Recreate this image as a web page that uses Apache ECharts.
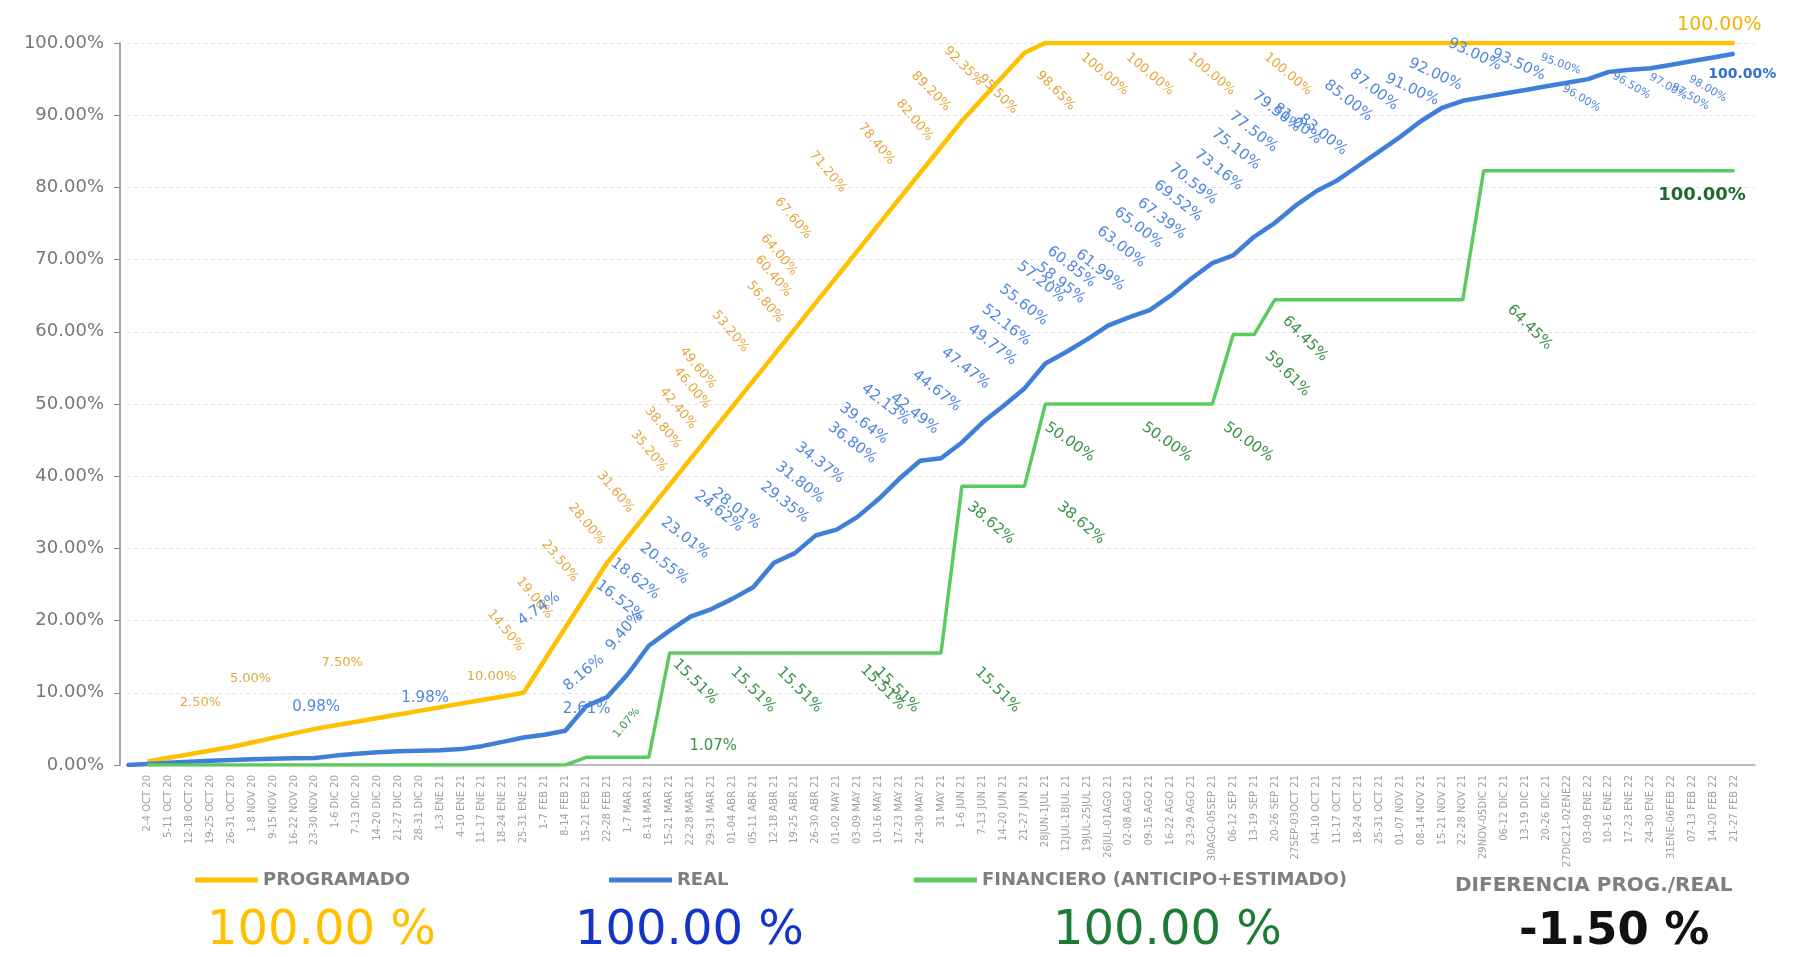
<!DOCTYPE html>
<html><head><meta charset="utf-8">
<script src="https://cdn.jsdelivr.net/npm/echarts@6/dist/echarts.min.js"></script>
<style>html,body{margin:0;padding:0;background:#fff}#c{width:1804px;height:957px}</style>
</head><body><div id="c"></div>
<script>
// ---------------- DATA ----------------
const categories = ['',
'2-4 OCT 20','5-11 OCT 20','12-18 OCT 20','19-25 OCT 20','26-31 OCT 20','1-8 NOV 20','9-15 NOV 20','16-22 NOV 20','23-30 NOV 20',
'1-6 DIC 20','7-13 DIC 20','14-20 DIC 20','21-27 DIC 20','28-31 DIC 20','1-3 ENE 21','4-10 ENE 21','11-17 ENE 21','18-24 ENE 21','25-31 ENE 21',
'1-7 FEB 21','8-14 FEB 21','15-21 FEB 21','22-28 FEB 21','1-7 MAR 21','8-14 MAR 21','15-21 MAR 21','22-28 MAR 21','29-31 MAR 21',
'01-04 ABR 21','05-11 ABR 21','12-18 ABR 21','19-25 ABR 21','26-30 ABR 21','01-02 MAY 21','03-09 MAY 21','10-16 MAY 21','17-23 MAY 21','24-30 MAY 21','31 MAY 21',
'1-6 JUN 21','7-13 JUN 21','14-20 JUN 21','21-27 JUN 21','28JUN-1JUL 21','12JUL-18JUL 21','19JUL-25JUL 21','26JUL-01AGO 21',
'02-08 AGO 21','09-15 AGO 21','16-22 AGO 21','23-29 AGO 21','30AGO-05SEP 21','06-12 SEP 21','13-19 SEP 21','20-26 SEP 21','27SEP-03OCT 21',
'04-10 OCT 21','11-17 OCT 21','18-24 OCT 21','25-31 OCT 21','01-07 NOV 21','08-14 NOV 21','15-21 NOV 21','22-28 NOV 21','29NOV-05DIC 21',
'06-12 DIC 21','13-19 DIC 21','20-26 DIC 21','27DIC21-02ENE22','03-09 ENE 22','10-16 ENE 22','17-23 ENE 22','24-30 ENE 22','31ENE-06FEB 22',
'07-13 FEB 22','14-20 FEB 22','21-27 FEB 22',''];

const programado = [null,
0.5,1.0,1.5,2.0,2.5,3.125,3.75,4.375,5.0,
5.5,6.0,6.5,7.0,7.5,8.0,8.5,9.0,9.5,10.0,
14.5,19.0,23.5,28.0,31.6,35.2,38.8,42.4,46.0,
49.6,53.2,56.8,60.4,64.0,67.6,71.2,74.8,78.4,82.0,85.6,
89.2,92.35,95.5,98.65,100,100,100,100,
100,100,100,100,100,100,100,100,100,
100,100,100,100,100,100,100,100,100,
100,100,100,100,100,100,100,100,100,
100,100,100,null];

const real = [0,
0.15,0.3,0.45,0.6,0.7,0.8,0.88,0.93,0.98,
1.3,1.55,1.75,1.9,1.98,2.05,2.2,2.61,3.2,3.8,
4.2,4.74,8.16,9.40,12.6,16.52,18.62,20.55,21.6,
23.01,24.62,28.01,29.35,31.80,32.6,34.37,36.80,39.64,42.13,42.49,
44.67,47.47,49.77,52.16,55.60,57.20,58.95,60.85,
61.99,63.00,65.00,67.39,69.52,70.59,73.16,75.10,77.50,
79.50,81.00,83.00,85.00,87.00,89.2,91.00,92.00,92.5,
93.00,93.50,94.0,94.5,95.00,96.00,96.3,96.50,97.00,
97.50,98.00,98.5,null];

const financiero = [null,
0,0,0,0,0,0,0,0,0,
0,0,0,0,0,0,0,0,0,0,
0,0,1.07,1.07,1.07,1.07,15.51,15.51,15.51,
15.51,15.51,15.51,15.51,15.51,15.51,15.51,15.51,15.51,15.51,15.51,
38.62,38.62,38.62,38.62,50,50,50,50,
50,50,50,50,50,59.61,59.61,64.45,64.45,
64.45,64.45,64.45,64.45,64.45,64.45,64.45,64.45,82.3,
82.3,82.3,82.3,82.3,82.3,82.3,82.3,82.3,82.3,
82.3,82.3,82.3,null];

const totals = { programado: '100.00 %', real: '100.00 %', financiero: '100.00 %', diferencia: '-1.50 %' };

// ---------------- LABEL PLACEMENT (index, dx, dy, rotate, text) ----------------
const K = 1.1505;
const progLabels = [[5,-26,-38,0],[9,-55,-43,0],[14,-66,-41,0],[19,-27,-13,0],
[20,-33,-25,-50],[21,-26,-25,-50],[22,-22,-29,-50],[23,-17,-33,-50],[24,-10,-38,-50],[25,1,-51,-50],
[26,-5,-49,-50],[27,-10,-43,-50],[28,-16,-38,-50],[29,-29,-33,-50],[30,-19,-42,-50],[31,-7,-45,-50],
[32,-18,-45,-50],[33,-31,-41,-50],[34,-37,-50,-50],[35,-25,-68,-50],[37,-19,-47,-50],[38,-4,-45,-50],
[40,-26,-25,-45],[41,-16,-27,-45],[42,-4,17,-45],[43,28,34,-45],[46,16,28,-40],[49,1,28,-40],[52,0,28,-40],[56,-6,28,-40]];
const progEnd = [77,-12,-15,0];

const realLabels = [[9,2,-43,0],[14,6,-45,0],[17,92,-31,0],[21,-22,-105,35],[22,-1,-28,40],[23,16,-57,50],
[25,-24,-38,-38],[26,-29,-44,-38],[27,-22,-45,-38],[29,-40,-52,-38],[30,-29,-65,-38],[31,-32,-46,-38],
[32,-8,-43,-38],[33,-13,-45,-38],[35,-32,-46,-38],[36,-22,-48,-38],[37,-30,-47,-38],[38,-29,-48,-38],
[39,-22,-38,-38],[40,-21,-44,-38],[41,-14,-46,-38],[42,-9,-52,-38],[43,-15,-54,-38],[44,-18,-50,-38],
[45,-21,-60,-38],[46,-22,-48,-38],[47,-31,-50,-38],[48,-24,-40,-38],[49,-24,-54,-38],[50,-27,-58,-38],
[51,-25,-51,-38],[52,-29,-53,-38],[53,-34,-61,-38],[54,-30,-57,-38],[55,-33,-63,-38],[56,-36,-63,-38],
[57,-34,-68,-38],[58,-34,-48,-38],[59,-30,-26,-38],[60,-26,-43,-38],[61,-22,-40,-38],
[63,-25,-15,-25],[64,-23,-22,-25],[66,-25,-33,-25],[67,-5,-21,-25]];
const realSmall = [[70,-23,-12,-20],[71,-23,24,-30],[73,-16,16,-30],[74,-2,20,-30],[75,-1,32,-30],[76,-4,28,-30]];
const realEnd = [77,8,19,0,'100.00%'];

const finLabels = [[24,75,-9,0],[26,23,26,-45],[29,19,33,-45],[31,23,33,-45],[35,23,31,-45],[36,17,33,-45],
[39,50,33,-45],[40,26,33,-40],[43,50,33,-40],[44,22,34,-35],[48,34,34,-35],[52,32,34,-35],
[54,30,35,-45],[55,27,35,-45],[64,59,25,-45]];
const finSmall = [[22,36,-29,50]];
const finEnd = [77,-27,22,0,'100.00%'];

// ---------------- BUILD ----------------
const FONT = 'DejaVu Sans';
function withLabels(values, groups) {
  const map = {};
  groups.forEach(g => g.list.forEach(l => { map[l[0]] = { l, style: g.style }; }));
  return values.map((v, i) => {
    const m = map[i];
    if (!m || v == null) return v;
    const l = m.l;
    return { value: v, label: Object.assign({
      show: true, position: [l[1] * K, l[2] * K], align: 'center', verticalAlign: 'middle',
      rotate: l[3], formatter: l[4] || (v.toFixed(2) + '%'), fontFamily: FONT
    }, m.style) };
  });
}

const C_PROG = '#FFC000', C_REAL = '#3F7FD8', C_FIN = '#5CCB5F';

const chart = echarts.init(document.getElementById('c'), null, { renderer: 'canvas' });
const lineBase = { type: 'line', symbol: 'circle', symbolSize: 2, showAllSymbol: true, animation: false,
  emphasis: { disabled: true }, label: { show: false } };
const legendText = { color: '#7f7f7f', fontWeight: 'bold', fontSize: 18, fontFamily: FONT };

chart.setOption({
  backgroundColor: '#fff',
  animation: false,
  textStyle: { fontFamily: FONT },
  grid: { left: 127, right: 49, top: 43, bottom: 192, containLabel: false },
  xAxis: {
    type: 'category', data: categories, boundaryGap: false,
    axisLine: { lineStyle: { color: '#a8a8a8', width: 1.5 } },
    axisTick: { show: false },
    axisLabel: { interval: 0, rotate: 90, fontSize: 10, color: '#a0a0a0', margin: 10, fontFamily: FONT },
    splitLine: { show: false }
  },
  yAxis: {
    type: 'value', min: 0, max: 100, interval: 10, offset: 7,
    axisLine: { show: true, lineStyle: { color: '#8a8a8a', width: 1.5 } },
    axisTick: { show: true, length: 6, lineStyle: { color: '#8a8a8a' } },
    axisLabel: { formatter: v => v.toFixed(2) + '%', color: '#777', fontSize: 18, margin: 16, fontFamily: FONT },
    splitLine: { lineStyle: { color: '#e4e4e4', type: [4, 3] } }
  },
  legend: [
    { data: ['PROGRAMADO'], left: 190, top: 866, icon: 'rect', itemWidth: 63, itemHeight: 5, selectedMode: false, textStyle: legendText },
    { data: ['REAL'], left: 604, top: 866, icon: 'rect', itemWidth: 63, itemHeight: 5, selectedMode: false, textStyle: legendText },
    { data: ['FINANCIERO (ANTICIPO+ESTIMADO)'], left: 909, top: 866, icon: 'rect', itemWidth: 63, itemHeight: 5, selectedMode: false, textStyle: legendText }
  ],
  graphic: [
    { type: 'text', left: 1455, top: 876, style: { text: 'DIFERENCIA PROG./REAL', fill: '#7f7f7f', font: 'bold 20px "DejaVu Sans"' } },
    { type: 'text', left: 207, top: 908, style: { text: totals.programado, fill: '#FFC000', font: '48px "DejaVu Sans"' } },
    { type: 'text', left: 575, top: 908, style: { text: totals.real, fill: '#1334C9', font: '48px "DejaVu Sans"' } },
    { type: 'text', left: 1053, top: 908, style: { text: totals.financiero, fill: '#1E7B34', font: '48px "DejaVu Sans"' } },
    { type: 'text', left: 1519, top: 910, style: { text: totals.diferencia, fill: '#111', font: 'bold 45px "DejaVu Sans"' } }
  ],
  series: [
    Object.assign({}, lineBase, {
      name: 'PROGRAMADO', color: C_PROG, z: 2,
      lineStyle: { width: 4.5, color: C_PROG }, itemStyle: { color: C_PROG },
      data: withLabels(programado, [
        { list: progLabels, style: { color: '#E2A73C', fontSize: 13 } },
        { list: [progEnd], style: { color: '#F0B400', fontSize: 19 } }
      ])
    }),
    Object.assign({}, lineBase, {
      name: 'REAL', color: C_REAL, z: 3,
      lineStyle: { width: 4.5, color: C_REAL }, itemStyle: { color: C_REAL },
      data: withLabels(real, [
        { list: realLabels, style: { color: '#5088DE', fontSize: 15 } },
        { list: realSmall, style: { color: '#5088DE', fontSize: 11 } },
        { list: [realEnd], style: { color: '#2F6FD6', fontSize: 14, fontWeight: 'bold' } }
      ])
    }),
    Object.assign({}, lineBase, {
      name: 'FINANCIERO (ANTICIPO+ESTIMADO)', color: C_FIN, z: 4,
      lineStyle: { width: 3.5, color: C_FIN }, itemStyle: { color: C_FIN },
      data: withLabels(financiero, [
        { list: finLabels, style: { color: '#3A9147', fontSize: 15 } },
        { list: finSmall, style: { color: '#3A9147', fontSize: 11 } },
        { list: [finEnd], style: { color: '#1E6B30', fontSize: 18, fontWeight: 'bold' } }
      ])
    })
  ]
});
</script>
</body></html>
